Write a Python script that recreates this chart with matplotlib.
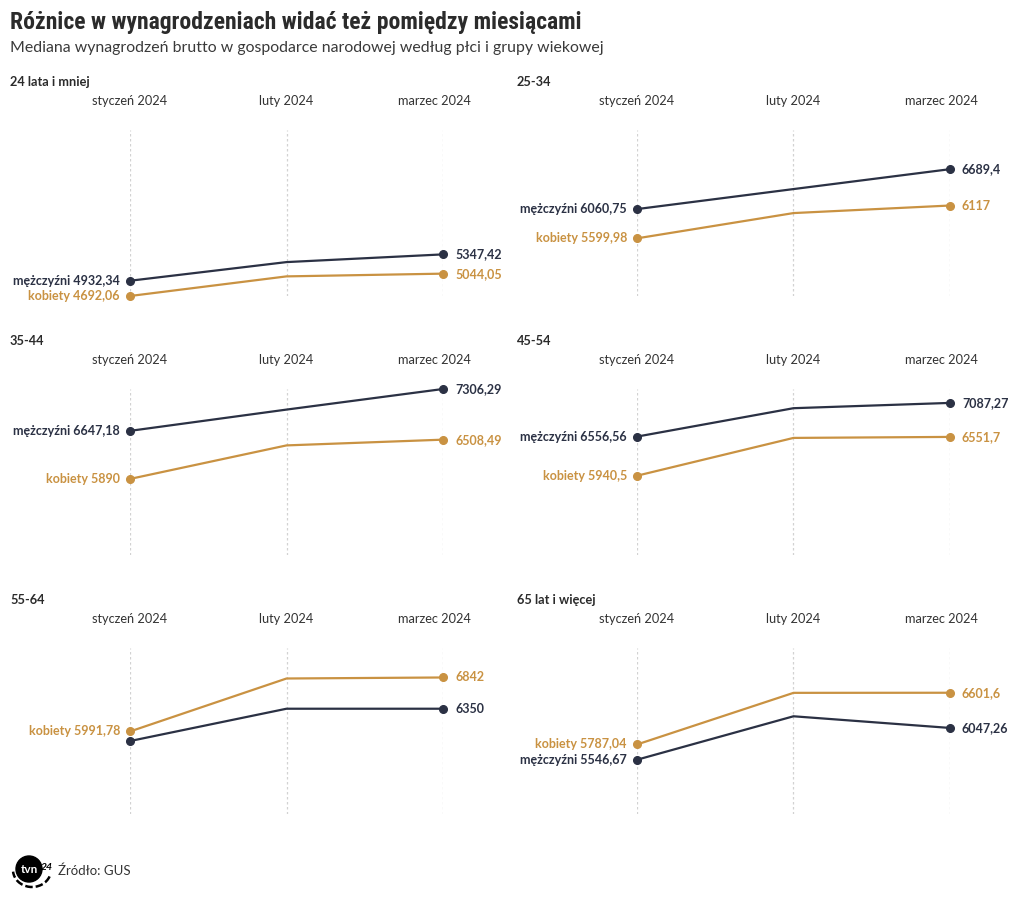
import matplotlib
matplotlib.use("Agg")
import matplotlib.pyplot as plt
from matplotlib.patches import Circle, Arc

plt.rcParams['font.family'] = ['Lato', 'DejaVu Sans']

# ---------------- data ----------------
title = "Różnice w wynagrodzeniach widać też pomiędzy miesiącami"
subtitle = "Mediana wynagrodzeń brutto w gospodarce narodowej według płci i grupy wiekowej"
source = "Źródło: GUS"
months = ["styczeń 2024", "luty 2024", "marzec 2024"]
groups = ["24 lata i mniej", "25-34", "35-44", "45-54", "55-64", "65 lat i więcej"]
series_names = ["mężczyźni", "kobiety"]

men = [
    [4932.34, 5226, 5347.42],
    [6060.75, 6376, 6689.40],
    [6647.18, 6982, 7306.29],
    [6556.56, 7004, 7087.27],
    [5841, 6350, 6350.00],
    [5546.67, 6231, 6047.26],
]
women = [
    [4692.06, 5001, 5044.05],
    [5599.98, 5998, 6117.00],
    [5890.00, 6418, 6508.49],
    [5940.50, 6536, 6551.70],
    [5991.78, 6826, 6842.00],
    [5787.04, 6600, 6601.60],
]

MEN_C = "#2b3144"
WOMEN_C = "#c99242"
GRID_C = "#d2d2d2"
TEXT_C = "#333333"

W, H = 1020, 905
fig = plt.figure(figsize=(W / 100, H / 100), dpi=100)
fig.patch.set_facecolor("white")


def rect(x0, x1, ytop, ybot):
    return [x0 / W, 1 - ybot / H, (x1 - x0) / W, (ybot - ytop) / H]


def fmt(v):
    s = f"{v:.2f}".rstrip("0").rstrip(".")
    return s.replace(".", ",")


all_vals = [v for s in men + women for v in s]
ymin, ymax = min(all_vals), max(all_vals)

fig.text(10 / W, 1 - 22 / H, title, fontsize=17, fontweight="bold",
         family=["Roboto Condensed", "Liberation Sans Narrow", "Roboto"],
         color="#2b2b2b", va="center", ha="left")
fig.text(10 / W, 1 - 48 / H, subtitle, fontsize=11.4, color="#3a3a3a",
         va="center", ha="left")

col_x = [130, 637]
row_top = [130, 389, 648]
pw, ph = 313, 166

for gi, g in enumerate(groups):
    r, c = divmod(gi, 2)
    x0 = col_x[c]
    yt = row_top[r]
    ax = fig.add_axes(rect(x0, x0 + pw, yt, yt + ph))
    ax.set_xlim(0, len(months) - 1)
    ax.set_ylim(ymin, ymax)
    ax.axis("off")
    xs = list(range(len(months)))
    for i, m in enumerate(months):
        ax.axvline(i, color=GRID_C, lw=0.9, ls=(0, (2, 2)), zorder=0)
        last = i == len(months) - 1
        ax.annotate(m, xy=(i, 1), xycoords=("data", "axes fraction"),
                    xytext=(28 if last else 0, 29), textcoords="offset pixels",
                    ha="right" if last else "center", va="center",
                    fontsize=9.2, color=TEXT_C)
    fig.text((x0 - 120) / W, 1 - (yt - 48) / H, g, fontsize=9.2,
             fontweight="bold", color="#2b2b2b", va="center", ha="left")

    data = [(series_names[0], men[gi], MEN_C), (series_names[1], women[gi], WOMEN_C)]
    for name, vals, col in data:
        ax.plot(xs, vals, color=col, lw=1.6, marker="o", ms=5.5,
                markevery=[0, len(vals) - 1], clip_on=False, zorder=3)

    def ypix(v):
        return ax.transData.transform((0, v))[1]

    first_gap = abs(ypix(men[gi][0]) - ypix(women[gi][0]))
    last_gap = abs(ypix(men[gi][-1]) - ypix(women[gi][-1]))
    for si, (name, vals, col) in enumerate(data):
        show_first = not (si == 0 and first_gap < 12)
        show_last = not (si == 0 and last_gap < 12)
        if show_first:
            ax.annotate(f"{name} {fmt(vals[0])}", xy=(0, vals[0]),
                        xytext=(-10, 0), textcoords="offset pixels",
                        ha="right", va="center", fontsize=9,
                        fontweight="bold", color=col)
        if show_last:
            ax.annotate(fmt(vals[-1]), xy=(len(vals) - 1, vals[-1]),
                        xytext=(12, 0), textcoords="offset pixels",
                        ha="left", va="center", fontsize=9,
                        fontweight="bold", color=col)

# footer: logo + source
lax = fig.add_axes(rect(10, 58, 848, 892))
lax.set_xlim(0, 48)
lax.set_ylim(44, 0)
lax.set_aspect("equal")
lax.axis("off")
lax.add_patch(Arc((22, 22), 38, 34, theta1=20, theta2=175, color="black",
                  lw=1.8, ls=(0, (3, 1.2))))
lax.add_patch(Circle((19, 21), 13, color="black"))
lax.text(19, 21, "tvn", color="white", fontsize=8.5, fontweight="bold",
         ha="center", va="center")
lax.text(37, 19, "24", color="black", fontsize=7.5, fontweight="bold",
         ha="center", va="center", style="italic")
fig.text(58 / W, 1 - 871 / H, source, fontsize=9.5, color=TEXT_C,
         va="center", ha="left")

fig.savefig("out.png", dpi=100, facecolor="white")
